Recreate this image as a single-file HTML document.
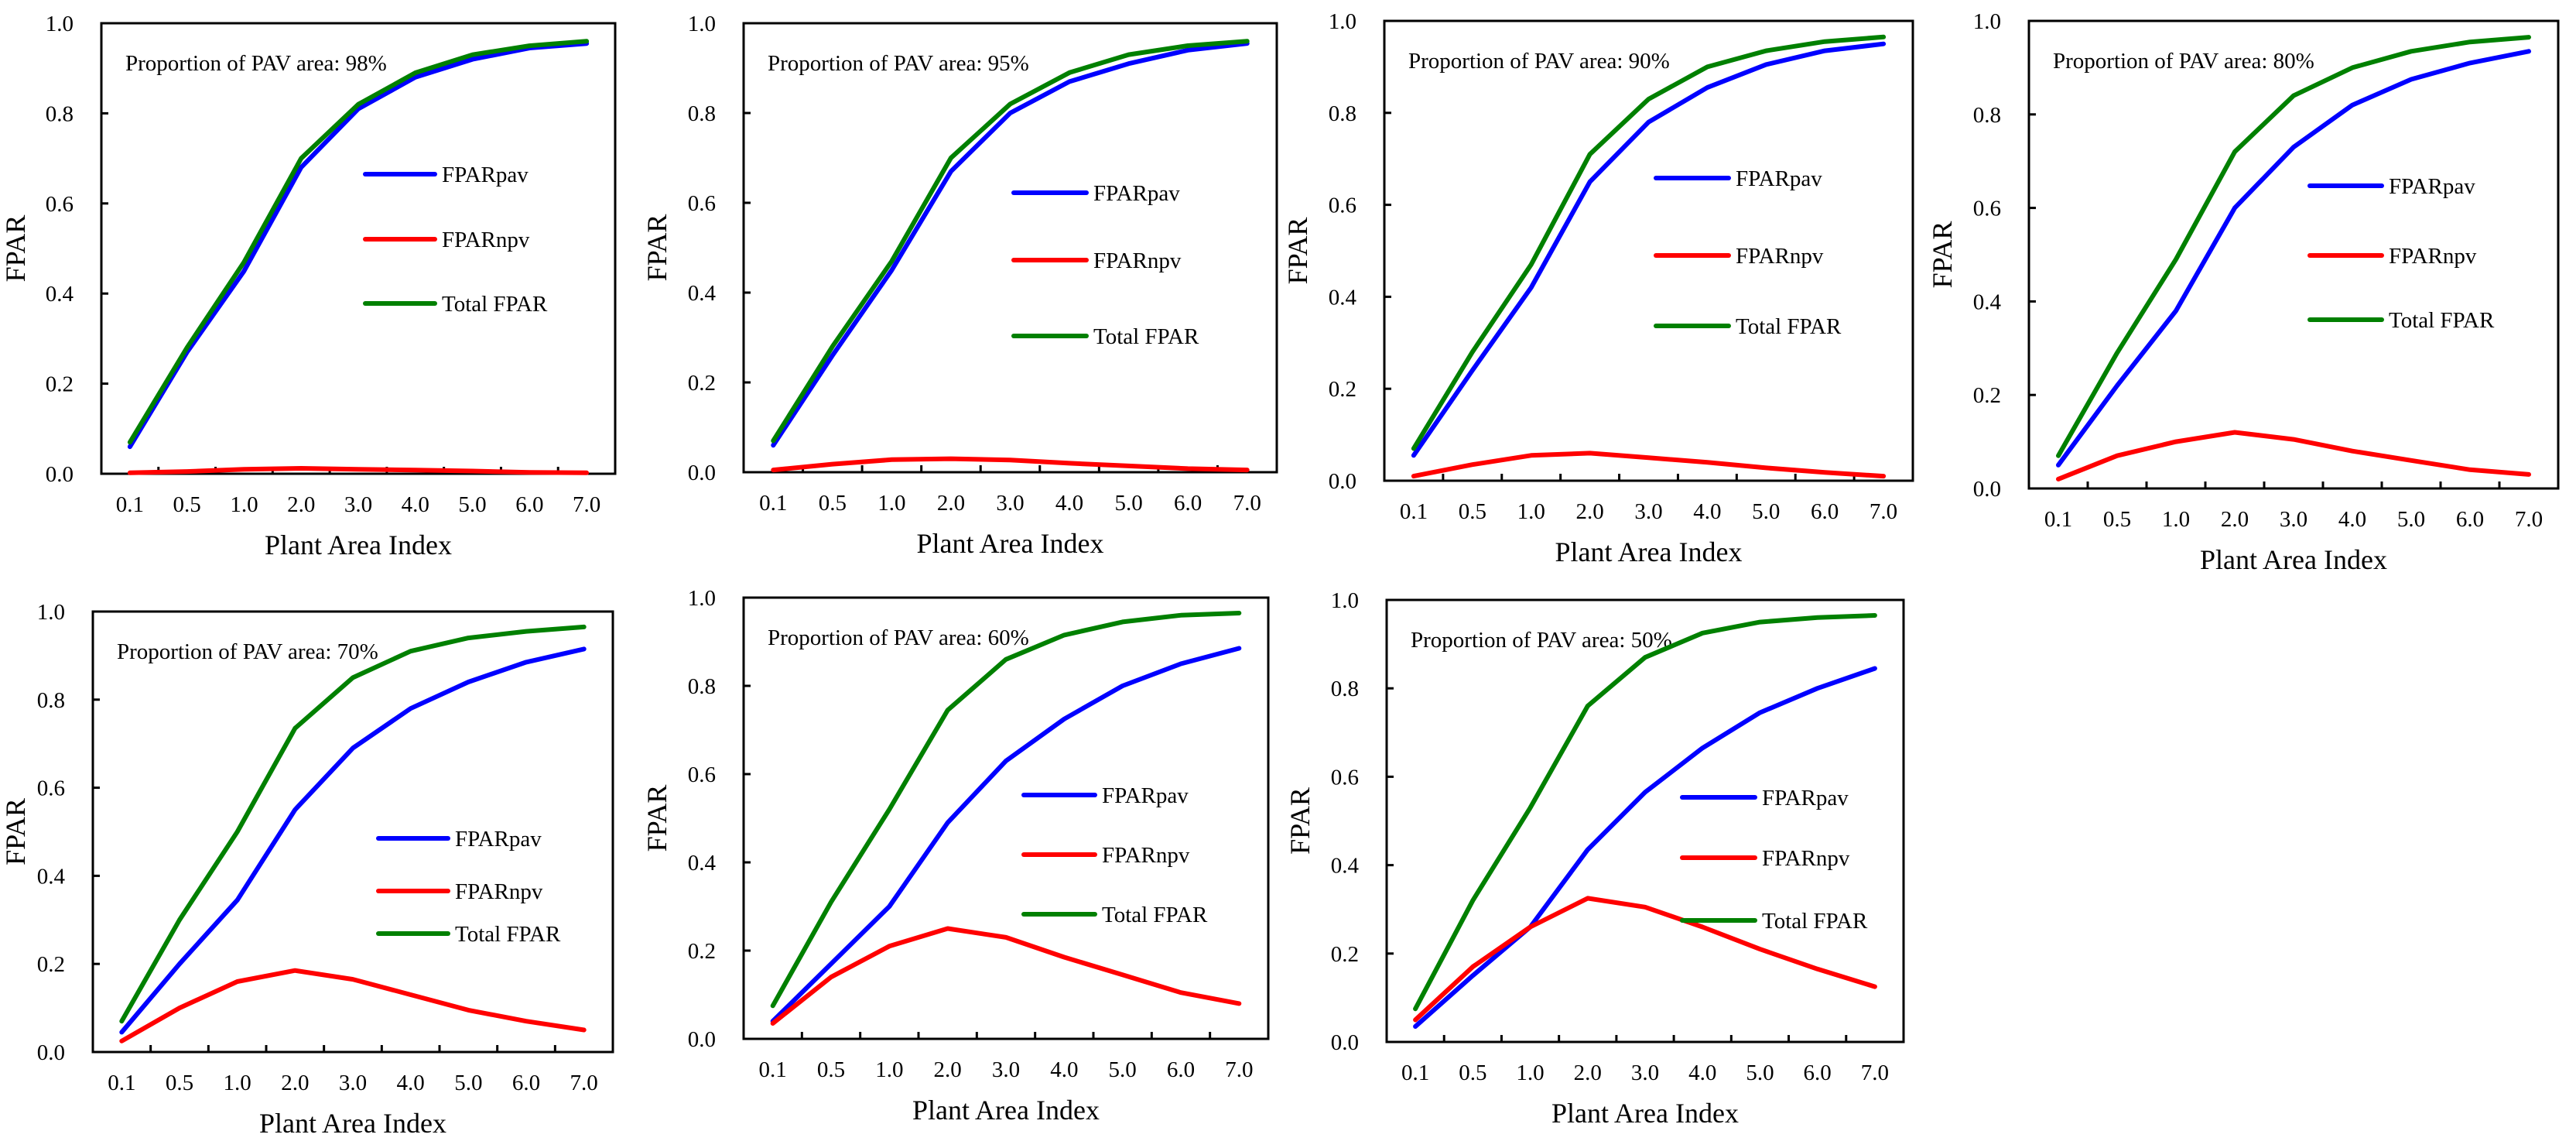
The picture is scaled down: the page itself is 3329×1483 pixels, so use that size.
<!DOCTYPE html>
<html><head><meta charset="utf-8"><style>
html,body{margin:0;padding:0;background:#fff}
svg{display:block}
text{font-family:"Liberation Serif",serif;fill:#000}
</style></head><body>
<svg id="fig" width="3329" height="1483" viewBox="0 0 3329 1483" xmlns="http://www.w3.org/2000/svg"></svg>
<script>
const categories = ["0.1","0.5","1.0","2.0","3.0","4.0","5.0","6.0","7.0"];
const yTicks = [0,0.2,0.4,0.6,0.8,1.0];
const yTickLabels = ["0.0","0.2","0.4","0.6","0.8","1.0"];
const proportions = ["98%","95%","90%","80%","70%","60%","50%"];
const seriesNames = ["FPARpav","FPARnpv","Total FPAR"];
const pav98 = [.06,.27,.45,.68,.81,.88,.92,.945,.955];
const npv98 = [.002,.005,.01,.012,.01,.008,.006,.003,.002];
const tot98 = [.07,.28,.47,.70,.82,.89,.93,.95,.96];
const pav95 = [.06,.26,.45,.67,.80,.87,.91,.94,.955];
const npv95 = [.005,.018,.028,.03,.027,.02,.014,.008,.005];
const tot95 = [.07,.28,.47,.70,.82,.89,.93,.95,.96];
const pav90 = [.055,.24,.42,.65,.78,.855,.905,.935,.95];
const npv90 = [.01,.035,.055,.06,.05,.04,.028,.018,.01];
const tot90 = [.07,.28,.47,.71,.83,.90,.935,.955,.965];
const pav80 = [.05,.22,.38,.60,.73,.82,.875,.91,.935];
const npv80 = [.02,.07,.10,.12,.105,.08,.06,.04,.03];
const tot80 = [.07,.29,.49,.72,.84,.90,.935,.955,.965];
const pav70 = [.045,.20,.345,.55,.69,.78,.84,.885,.915];
const npv70 = [.025,.10,.16,.185,.165,.13,.095,.07,.05];
const tot70 = [.07,.30,.50,.735,.85,.91,.94,.955,.965];
const pav60 = [.04,.17,.30,.49,.63,.725,.80,.85,.885];
const npv60 = [.035,.14,.21,.25,.23,.185,.145,.105,.08];
const tot60 = [.075,.31,.52,.745,.86,.915,.945,.96,.965];
const pav50 = [.035,.15,.26,.435,.565,.665,.745,.80,.845];
const npv50 = [.05,.17,.26,.325,.305,.26,.21,.165,.125];
const tot50 = [.075,.32,.53,.76,.87,.925,.95,.96,.965];

const dataSets = [[pav98,npv98,tot98],[pav95,npv95,tot95],[pav90,npv90,tot90],[pav80,npv80,tot80],[pav70,npv70,tot70],[pav60,npv60,tot60],[pav50,npv50,tot50]];
const colors = ["#0000ff","#ff0000","#008000"];
const layout = [
 {box:[131,30,795,612], leg:[472,562,225,309,392]},
 {box:[961,30,1650,610], leg:[1310,1404,249,336,434]},
 {box:[1789,27,2472,621], leg:[2140,2234,230,330,421]},
 {box:[2622,27,3306,631], leg:[2985,3078,240,330,413]},
 {box:[120,790,792,1359], leg:[489,579,1083,1151,1206]},
 {box:[961,772,1639,1342], leg:[1323,1415,1027,1104,1181]},
 {box:[1792,775,2460,1346], leg:[2174,2268,1030,1108,1189]}
];
const NS="http://www.w3.org/2000/svg";
const svg=document.getElementById('fig');
function mk(tag,attrs,parent){const e=document.createElementNS(NS,tag);for(const k in attrs)e.setAttribute(k,attrs[k]);(parent||svg).appendChild(e);return e;}

layout.forEach((L,pi)=>{
  const [l,t,r,b]=L.box;
  const g=mk('g',{});
  
  
  const bw=(r-l)/categories.length;
  const xs=i=>l+bw*(i+0.5);
  const ys=v=>b-(b-t)*v;
  const frame=mk('rect',{x:l,y:t,width:r-l,height:b-t,fill:'none',stroke:'#000','stroke-width':3},g);
  
  
  for(let i=1;i<categories.length;i++){
    const tk=mk('line',{x1:l+bw*i,x2:l+bw*i,y1:b,y2:b-9,stroke:'#000','stroke-width':3},g);
    
    
  }
  categories.forEach((c,i)=>{
    const tx=mk('text',{x:xs(i),y:b+49,'font-size':29,'text-anchor':'middle'},g);
    tx.textContent=c;
    
    
  });
  yTicks.forEach((v,i)=>{
    if(i>0&&i<yTicks.length-1){
      const tk=mk('line',{x1:l,x2:l+9,y1:ys(v),y2:ys(v),stroke:'#000','stroke-width':3},g);
      
      
    }
    const tx=mk('text',{x:l-36,y:ys(v)+10,'font-size':29,'text-anchor':'end'},g);
    tx.textContent=yTickLabels[i];
    
    
  });
  const xt=mk('text',{x:(l+r)/2,y:b+104,'font-size':36,'text-anchor':'middle'},g);
  xt.textContent='Plant Area Index';
  
  
  const cy=(t+b)/2, cx=Math.max(l-100,32);
  const yt=mk('text',{x:cx,y:cy,'font-size':36,'text-anchor':'middle',transform:`rotate(-90 ${cx} ${cy})`},g);
  yt.textContent='FPAR';
  
  
  const an=mk('text',{x:l+31,y:t+61,'font-size':29},g);
  an.textContent='Proportion of PAV area: '+proportions[pi];
  
  
  dataSets[pi].forEach((vals,si)=>{
    const pts=vals.map((v,i)=>xs(i).toFixed(1)+','+ys(v).toFixed(1)).join(' ');
    const pl=mk('polyline',{points:pts,fill:'none',stroke:colors[si],'stroke-width':6,'stroke-linejoin':'round','stroke-linecap':'round'},g);
    
    
  });
  seriesNames.forEach((n,si)=>{
    const y=L.leg[2+si];
    const ln=mk('line',{x1:L.leg[0],x2:L.leg[1],y1:y,y2:y,stroke:colors[si],'stroke-width':6,'stroke-linecap':'round'},g);
    
    
    const tx=mk('text',{x:L.leg[1]+9,y:y+10,'font-size':29},g);
    tx.textContent=n;
    
    
  });
});
</script>
</body></html>
